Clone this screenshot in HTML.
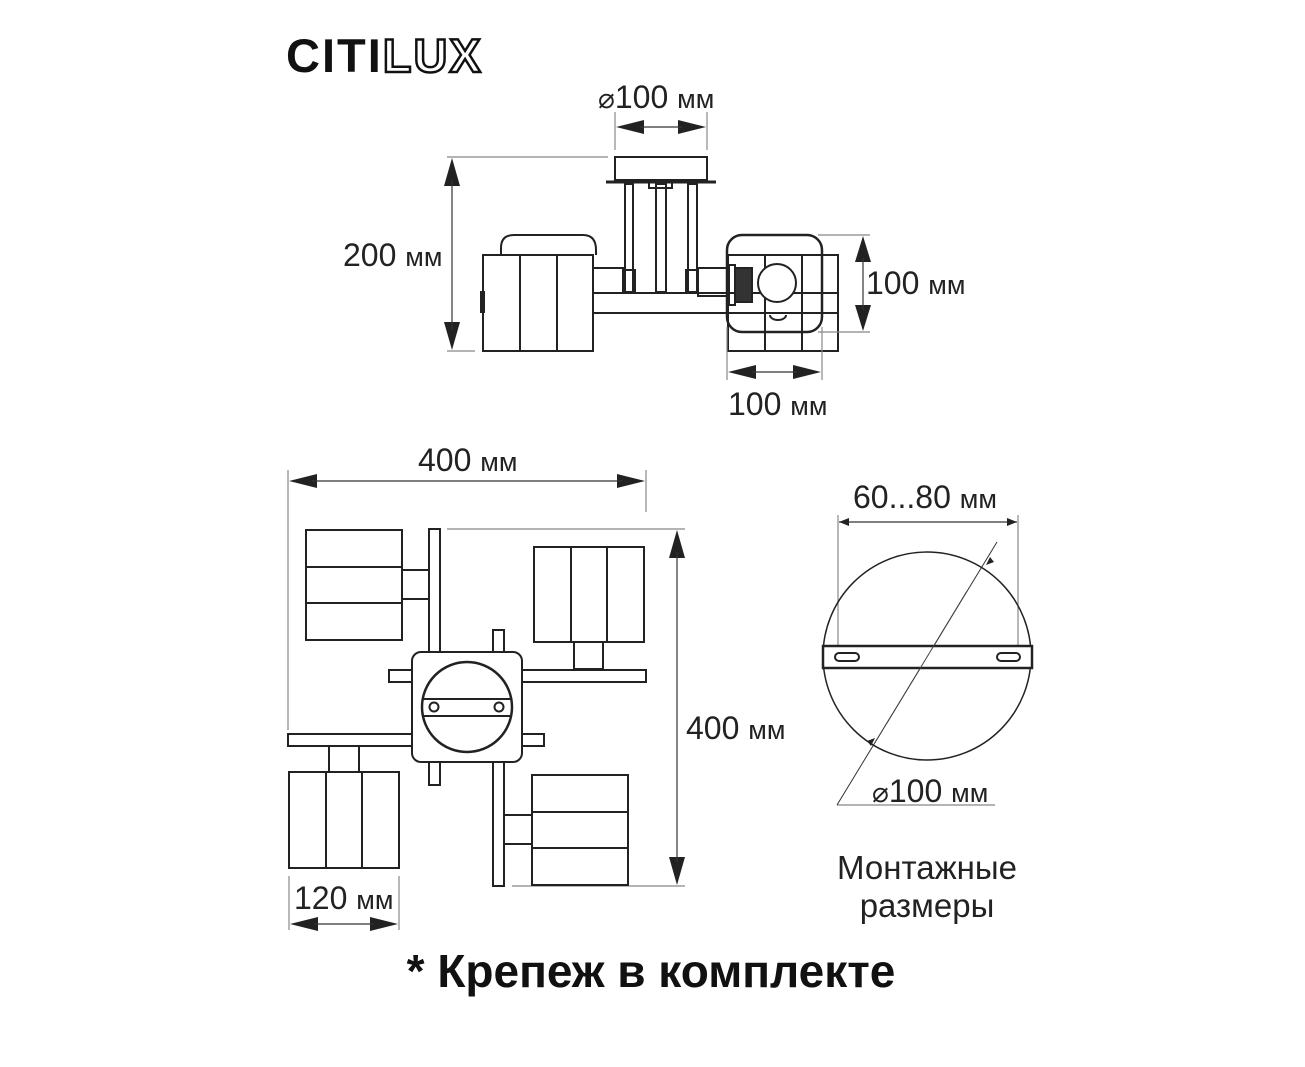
<!DOCTYPE html>
<html><head><meta charset="utf-8"><style>
html,body{margin:0;padding:0;background:#fff;}
svg{display:block}
text{font-family:"Liberation Sans",Arial,sans-serif;fill:#222}
</style></head><body>
<svg width="1305" height="1067" viewBox="0 0 1305 1067" xmlns="http://www.w3.org/2000/svg">
<defs>
<marker id="a" markerWidth="10" markerHeight="8" refX="10" refY="4" orient="auto-start-reverse" markerUnits="userSpaceOnUse"><path d="M0,0 L10,4 L0,8 z" fill="#222"/></marker>
</defs>
<!-- Logo -->
<text x="286" y="72" font-size="47" font-weight="900" style="fill:#111;letter-spacing:2px">CITI<tspan style="fill:#fff;stroke:#111;stroke-width:2.5">LUX</tspan></text>

<g stroke="#222" fill="none" stroke-width="2">
<rect x="615" y="157" width="92" height="23" fill="#fff"/>
<line x1="606" y1="182" x2="716" y2="182" stroke-width="3"/>
<rect x="649" y="182" width="23" height="6"/>
<rect x="625" y="184" width="8" height="108"/>
<rect x="688" y="184" width="9" height="108"/>
<rect x="656" y="184" width="10" height="108"/>
<rect x="623" y="270" width="12" height="22"/>
<rect x="686" y="270" width="12" height="22"/>
<rect x="593" y="293" width="245" height="20" fill="#fff"/>
<rect x="593" y="268" width="30" height="25"/>
<rect x="698" y="268" width="29" height="28"/>
<path d="M501,255 V248 Q501,235 514,235 H583 Q596,235 596,250 V255"/>
<rect x="483" y="255" width="110" height="96" fill="#fff"/>
<line x1="520" y1="255" x2="520" y2="351"/>
<line x1="557" y1="255" x2="557" y2="351"/>
<rect x="481" y="292" width="3" height="20" fill="#222"/>
<rect x="728" y="255" width="110" height="96"/>
<line x1="765" y1="255" x2="765" y2="351"/>
<line x1="802" y1="255" x2="802" y2="351"/>
<rect x="727" y="235" width="95" height="97" rx="15" fill="none" stroke-width="2.5"/>
<rect x="735" y="268" width="17" height="34" fill="#333"/>
<rect x="729" y="265" width="6" height="40"/>
<circle cx="777" cy="283" r="19" fill="#fff"/>
<path d="M770,315 a8,5 0 0 0 16,0" />
</g>

<g stroke="#888" stroke-width="1.2" fill="none">
<line x1="447" y1="157" x2="608" y2="157"/>
<line x1="447" y1="351" x2="475" y2="351"/>
<line x1="615" y1="112" x2="615" y2="150"/>
<line x1="707" y1="112" x2="707" y2="150"/>
<line x1="818" y1="235" x2="870" y2="235"/>
<line x1="818" y1="332" x2="870" y2="332"/>
<line x1="727" y1="327" x2="727" y2="380"/>
<line x1="822" y1="327" x2="822" y2="380"/>
<line x1="288" y1="470" x2="288" y2="730"/>
<line x1="646" y1="470" x2="646" y2="512"/>
<line x1="447" y1="529" x2="685" y2="529"/>
<line x1="512" y1="886" x2="685" y2="886"/>
<line x1="289" y1="876" x2="289" y2="930"/>
<line x1="399" y1="876" x2="399" y2="930"/>
<line x1="838" y1="515" x2="838" y2="657"/>
<line x1="1018" y1="515" x2="1018" y2="657"/>
<line x1="837" y1="805" x2="995" y2="805"/>
</g>
<g fill="#222">
<path d="M452,158 l-8,28 h16z"/><path d="M452,350 l-8,-28 h16z"/>
<path d="M863,236 l-8,26 h16z"/><path d="M863,331 l-8,-26 h16z"/>
<path d="M616,127 l28,-7 v14z"/><path d="M706,127 l-28,-7 v14z"/>
<path d="M728,372 l28,-7 v14z"/><path d="M821,372 l-28,-7 v14z"/>
<path d="M289,481 l28,-7 v14z"/><path d="M645,481 l-28,-7 v14z"/>
<path d="M677,530 l-8,28 h16z"/><path d="M677,885 l-8,-28 h16z"/>
<path d="M290,924 l28,-7 v14z"/><path d="M398,924 l-28,-7 v14z"/>
</g>
<g stroke="#333" stroke-width="1.2">
<line x1="452" y1="180" x2="452" y2="330"/>
<line x1="863" y1="258" x2="863" y2="310"/>
<line x1="640" y1="127" x2="682" y2="127"/>
<line x1="752" y1="372" x2="797" y2="372"/>
<line x1="312" y1="481" x2="622" y2="481"/>
<line x1="677" y1="552" x2="677" y2="862"/>
<line x1="314" y1="924" x2="374" y2="924"/>
<line x1="839" y1="522" x2="1017" y2="522" marker-start="url(#a)" marker-end="url(#a)"/>
<line x1="837" y1="805" x2="997" y2="542" stroke-width="1"/>
</g>
<path d="M990,557 l-4,8 l8,-3z M871,746 l4,-8 l-8,3z" fill="#222"/>

<g stroke="#222" fill="#fff" stroke-width="2">
<rect x="429" y="529" width="11" height="124"/>
<rect x="306" y="530" width="96" height="110"/>
<line x1="306" y1="567" x2="402" y2="567"/><line x1="306" y1="603" x2="402" y2="603"/>
<rect x="402" y="570" width="27" height="29"/>
<rect x="522" y="670" width="124" height="12"/>
<rect x="534" y="547" width="110" height="95"/>
<line x1="571" y1="547" x2="571" y2="642"/><line x1="607" y1="547" x2="607" y2="642"/>
<rect x="574" y="642" width="29" height="27"/>
<rect x="493" y="630" width="11" height="23"/>
<rect x="389" y="670" width="23" height="12"/>
<rect x="288" y="734" width="124" height="12"/>
<rect x="522" y="734" width="22" height="12"/>
<rect x="429" y="762" width="11" height="23"/>
<rect x="493" y="762" width="11" height="124"/>
<rect x="329" y="746" width="30" height="26"/>
<rect x="289" y="772" width="110" height="96"/>
<line x1="326" y1="772" x2="326" y2="868"/><line x1="362" y1="772" x2="362" y2="868"/>
<rect x="504" y="815" width="28" height="29"/>
<rect x="532" y="775" width="96" height="110"/>
<line x1="532" y1="812" x2="628" y2="812"/><line x1="532" y1="848" x2="628" y2="848"/>
<rect x="412" y="652" width="110" height="110" rx="9"/>
<circle cx="467" cy="707" r="45" stroke-width="2.5"/>
<path d="M423,699 H511 M423,716 H511" />
<circle cx="434" cy="707" r="4.5"/><circle cx="499" cy="707" r="4.5"/>
</g>

<g stroke="#222" fill="none">
<circle cx="927" cy="656" r="104" stroke-width="1.5"/>
<rect x="823" y="646" width="209" height="22" fill="#fff" stroke-width="2.5"/>
<rect x="835" y="653" width="24" height="8" rx="4" stroke-width="2"/>
<rect x="997" y="653" width="23" height="8" rx="4" stroke-width="2"/>
<line x1="887" y1="723" x2="967" y2="591" stroke="#444" stroke-width="1"/>
</g>

<g font-size="32">
<text x="598" y="108"><tspan font-size="28">⌀</tspan>100 <tspan font-size="27">мм</tspan></text>
<text x="343" y="266">200 <tspan font-size="27">мм</tspan></text>
<text x="866" y="294">100 <tspan font-size="27">мм</tspan></text>
<text x="728" y="415">100 <tspan font-size="27">мм</tspan></text>
<text x="418" y="471">400 <tspan font-size="27">мм</tspan></text>
<text x="686" y="739">400 <tspan font-size="27">мм</tspan></text>
<text x="294" y="909">120 <tspan font-size="27">мм</tspan></text>
<text x="853" y="508">60...80 <tspan font-size="27">мм</tspan></text>
<text x="872" y="802"><tspan font-size="28">⌀</tspan>100 <tspan font-size="27">мм</tspan></text>
<text x="927" y="879" text-anchor="middle" font-size="33">Монтажные</text>
<text x="927" y="917" text-anchor="middle" font-size="33">размеры</text>
</g>
<text x="651" y="987" text-anchor="middle" font-size="46" font-weight="bold" style="fill:#111">* Крепеж в комплекте</text>
</svg>
</body></html>
